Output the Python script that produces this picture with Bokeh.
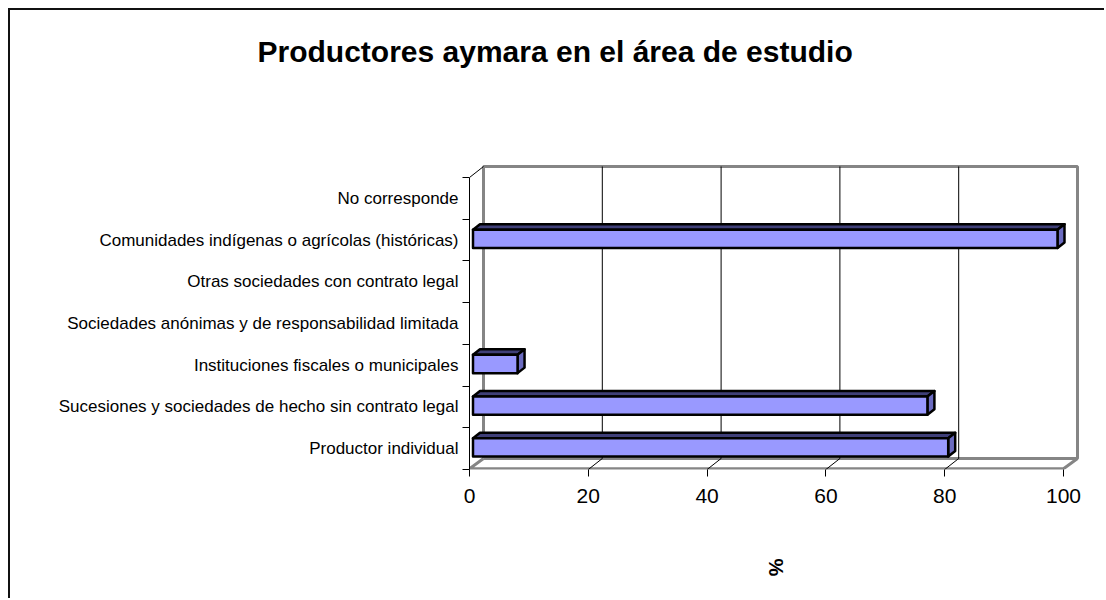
from bokeh.plotting import figure
from bokeh.models import Range1d, FixedTicker, LinearAxis
from bokeh.embed import file_html
from bokeh.resources import INLINE

# ---------------- data ----------------
categories = [
    "Productor individual",
    "Sucesiones y sociedades de hecho sin contrato legal",
    "Instituciones fiscales o municipales",
    "Sociedades anónimas y de responsabilidad limitada",
    "Otras sociedades con contrato legal",
    "Comunidades indígenas o agrícolas (históricas)",
    "No corresponde",
]
values = [80.0, 76.5, 7.5, 0.0, 0.0, 98.4, 0.0]
x_ticks = [0, 20, 40, 60, 80, 100]
x_tick_labels = ["0", "20", "40", "60", "80", "100"]
title_text = "Productores aymara en el área de estudio"
x_title = "%"

# ---------------- layout (page pixels) ----------------
OFF = 10                       # canvas origin on the page (8px margin + 2px border)
W, H = 1106 - OFF, 600 - OFF
X0, X100 = 469, 1063           # x=0 and x=100 on the front plane
YB, YT = 469, 177              # bottom/top of front plane
NCAT = len(categories)
sx = (X100 - X0) / 100.0
sy = (YB - YT) / NCAT
FL, FR, FT, FB = 469, 1082, 160, 469    # frame edges
x_start, x_end = -(X0 - FL) / sx, (FR - X0) / sx
y_start, y_end = -(FB - YB) / sy, (YB - FT) / sy

DX, DY = 14 / sx, 11 / sy      # wall depth
BX0 = 3.5 / sx                 # bar front face offset
BDX, BDY = 7 / sx, 5.5 / sy    # bar depth
FONT = "Liberation Sans"

p = figure(
    width=W, height=H,
    x_range=Range1d(x_start, x_end), y_range=Range1d(y_start, y_end),
    output_backend="svg", toolbar_location=None,
    min_border_left=FL - OFF, min_border_right=(W + OFF) - FR,
    min_border_top=FT - OFF, min_border_bottom=(H + OFF) - FB,
)
p.outline_line_color = None
p.xgrid.visible = False
p.ygrid.visible = False
p.styles = {"margin-left": "8px", "margin-top": "8px",
            "border-left": "2px solid #111111", "border-top": "2px solid #111111"}

GRAY = "#858585"
# back wall outline
p.line([DX, 100 + DX, 100 + DX, DX, DX], [DY, DY, NCAT + DY, NCAT + DY, DY],
       line_color=GRAY, line_width=3)
# floor edges
p.line([DX, 0, 100, 100 + DX], [DY, 0.02, 0.02, DY], line_color=GRAY, line_width=3)
# top-left diagonal
p.line([0, DX], [NCAT, NCAT + DY], line_color="black", line_width=1)
# gridlines on back wall and floor
gx = [t for t in x_ticks if 0 < t < 100]
p.multi_line([[t + DX, t + DX] for t in gx], [[DY, NCAT + DY] for t in gx],
             line_color="black", line_width=1)
p.multi_line([[t, t + DX] for t in gx], [[0, DY] for t in gx],
             line_color="black", line_width=1)

# 3D bars
fx, fy, tx, ty, sxs, sys_ = [], [], [], [], [], []
for i, v in enumerate(values):
    if v <= 0:
        continue
    c = i + 0.5
    yb, yt = c - 0.19, c + 0.25
    x0, x1 = BX0, BX0 + v
    fx.append([x0, x1, x1, x0]); fy.append([yb, yb, yt, yt])
    tx.append([x0, x1, x1 + BDX, x0 + BDX]); ty.append([yt, yt, yt + BDY, yt + BDY])
    sxs.append([x1, x1 + BDX, x1 + BDX, x1]); sys_.append([yb, yb + BDY, yt + BDY, yt])
p.patches(tx, ty, fill_color="#3F3F78", line_color="black", line_width=2.5, line_join="round")
p.patches(sxs, sys_, fill_color="#6B6BC0", line_color="black", line_width=2.5, line_join="round")
p.patches(fx, fy, fill_color="#9999FF", line_color="black", line_width=2.5, line_join="round")

# x axis
xa = p.xaxis[0]
xa.ticker = FixedTicker(ticks=x_ticks, minor_ticks=[])
xa.major_label_overrides = {t: l for t, l in zip(x_ticks, x_tick_labels)}
xa.bounds = (0, 100)
xa.axis_line_color = None
xa.major_tick_line_color = "black"
xa.major_tick_out = 7
xa.major_tick_in = 0
xa.minor_tick_line_color = None
xa.minor_tick_out = 0
xa.minor_tick_in = 0
xa.major_label_standoff = 12
xa.major_label_text_font = FONT
xa.major_label_text_font_size = "21px"
xa.major_label_text_color = "black"

# y axis
ya = p.yaxis[0]
centers = [i + 0.5 for i in range(NCAT)]
ya.ticker = FixedTicker(ticks=centers, minor_ticks=list(range(NCAT + 1)))
ya.major_label_overrides = {c: name for c, name in zip(centers, categories)}
ya.bounds = (0, NCAT)
ya.axis_line_color = "black"
ya.axis_line_width = 1
ya.major_tick_line_color = None
ya.major_tick_out = 0
ya.major_tick_in = 0
ya.minor_tick_line_color = "black"
ya.minor_tick_out = 7
ya.minor_tick_in = 0
ya.major_label_standoff = 4
ya.major_label_text_font = FONT
ya.major_label_text_font_size = "17px"
ya.major_label_text_color = "black"


def label_axis(text, size, standoff, orientation):
    """Tick-less axis used only to carry a text label."""
    return LinearAxis(ticker=FixedTicker(ticks=[], minor_ticks=[]),
                      axis_line_color=None, major_tick_line_color=None,
                      minor_tick_line_color=None, major_tick_out=0, major_tick_in=0,
                      minor_tick_out=0, minor_tick_in=0, major_label_standoff=0,
                      axis_label=text, axis_label_standoff=standoff,
                      axis_label_orientation=orientation,
                      axis_label_text_font=FONT, axis_label_text_font_style="bold",
                      axis_label_text_font_size=size, axis_label_text_color="black")


# the axis label is centred on the frame; trailing no-break spaces move the
# visible title left so that it is centred where the reference has it
title_pad = "\u00a0" * 53
p.add_layout(label_axis(title_text + title_pad, "30px", 93, "parallel"), "above")
p.add_layout(label_axis(x_title, "20px", 53, "vertical"), "below")

open("out.html", "w").write(file_html(p, INLINE))
